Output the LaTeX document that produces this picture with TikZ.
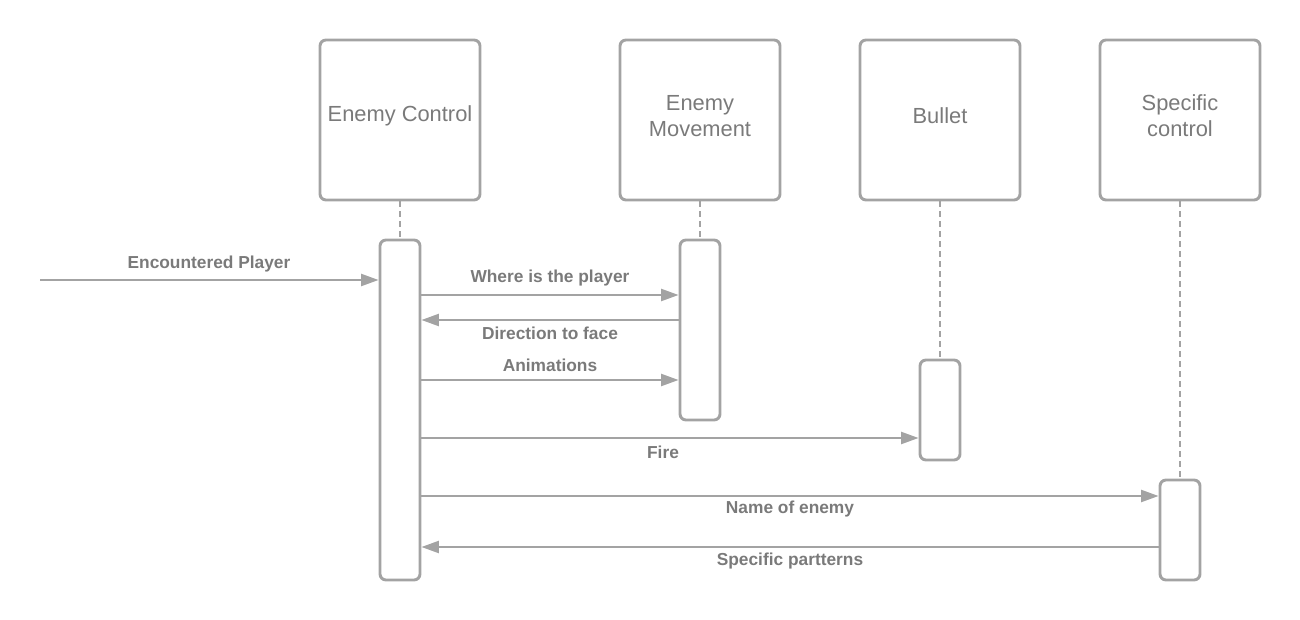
\documentclass[tikz,border=0pt]{standalone}
\usepackage{fontspec}
\setmainfont{Liberation Sans}
\usetikzlibrary{arrows.meta}
\definecolor{ln}{HTML}{A3A3A3}
\definecolor{tx}{HTML}{7A7A7A}
\tikzset{
  headbox/.style={draw=ln, line width=2.2pt, rounded corners=4.5pt, minimum width=120pt, minimum height=120pt, align=center, text=tx, font=\fontsize{16.4}{19.5}\selectfont, inner sep=0pt},
  actbar/.style={draw=ln, line width=2.2pt, rounded corners=4.5pt, minimum width=30pt, fill=white, inner sep=0pt},
  life/.style={draw=ln, line width=1.4pt, dash pattern=on 4.5pt off 3pt},
  msg/.style={draw=ln, line width=1.5pt, -{Triangle[length=13pt,width=9pt]}},
  lbl/.style={text=tx, font=\bfseries\fontsize{13}{15}\selectfont, inner sep=0pt}
}
\begin{document}
\begin{tikzpicture}[x=0.75pt,y=-0.75pt]
\useasboundingbox (0,0) rectangle (1300,620);
% heads
\node[headbox] (h1) at (400,120) {};
\node[headbox] (h2) at (700,120) {};
\node[headbox] (h3) at (940,120) {};
\node[headbox] (h4) at (1180,120) {};
\node[text=tx, font=\fontsize{16.4}{19.5}\selectfont, align=center, inner sep=0pt] (t1) at (400,116) {Enemy Control};
\node[text=tx, font=\fontsize{16.4}{19.5}\selectfont, align=center, inner sep=0pt] (t2) at (700,116) {Enemy\\Movement};
\node[text=tx, font=\fontsize{16.4}{19.5}\selectfont, align=center, inner sep=0pt] (t3) at (940,116) {Bullet};
\node[text=tx, font=\fontsize{16.4}{19.5}\selectfont, align=center, inner sep=0pt] (t4) at (1180,116) {Specific\\control};
% activation bars
\node[actbar, minimum height=255pt] (a1) at (400,410) {};
\node[actbar, minimum height=135pt] (a2) at (700,330) {};
\node[actbar, minimum height=75pt] (a3) at (940,410) {};
\node[actbar, minimum height=75pt] (a4) at (1180,530) {};
% lifelines
\draw[life] (h1.south) -- (a1.north);
\draw[life] (h2.south) -- (a2.north);
\draw[life] (h3.south) -- (a3.north);
\draw[life] (h4.south) -- (a4.north);
% messages
\coordinate (start) at (40,280);
\draw[msg] (start) -- (a1.west |- start);
\node[lbl] at (209,264) {Encountered Player};
\coordinate (m1) at (0,295);
\draw[msg] (a1.east |- m1) -- (a2.west |- m1);
\node[lbl] at (550,278) {Where is the player};
\coordinate (m2) at (0,320);
\draw[msg] (a2.west |- m2) -- (a1.east |- m2);
\node[lbl] at (550,333) {Direction to face};
\coordinate (m3) at (0,380);
\draw[msg] (a1.east |- m3) -- (a2.west |- m3);
\node[lbl] at (550,365) {Animations};
\coordinate (m4) at (0,438);
\draw[msg] (a1.east |- m4) -- (a3.west |- m4);
\node[lbl] at (663,452) {Fire};
\coordinate (m5) at (0,496);
\draw[msg] (a1.east |- m5) -- (a4.west |- m5);
\node[lbl] at (790,509) {Name of enemy};
\coordinate (m6) at (0,547);
\draw[msg] (a4.west |- m6) -- (a1.east |- m6);
\node[lbl] at (790,561) {Specific partterns};
\end{tikzpicture}
\end{document}
